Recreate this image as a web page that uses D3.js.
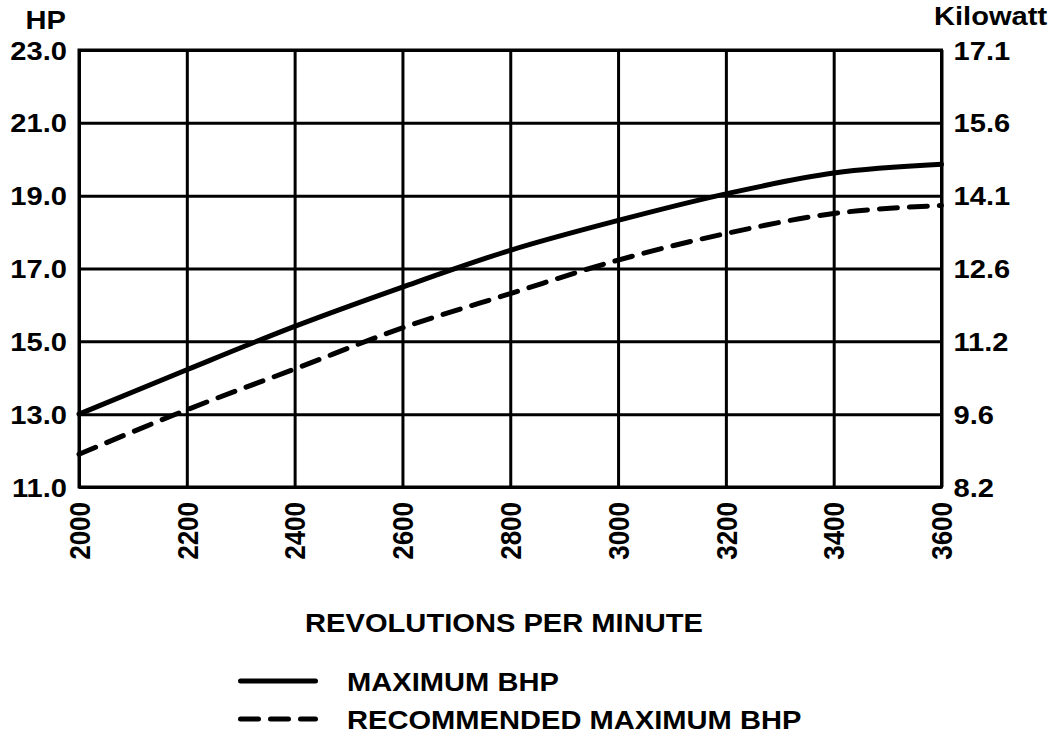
<!DOCTYPE html>
<html>
<head>
<meta charset="utf-8">
<script src="https://cdn.jsdelivr.net/npm/d3@7/dist/d3.min.js"></script>
<style>
body { margin: 0; background: #fff; }
text { font-family: "Liberation Sans", Arial, Helvetica, sans-serif; font-weight: bold; fill: #000; }
</style>
</head>
<body>
<svg id="chart" width="1053" height="738"></svg>
<script>
// values
var rpm = [2000, 2200, 2400, 2600, 2800, 3000, 3200, 3400, 3600];
var max_bhp = [13.0, 14.22, 15.41, 16.49, 17.5, 18.32, 19.05, 19.62, 19.86];
var rec_bhp = [11.9, 13.12, 14.24, 15.37, 16.31, 17.23, 17.96, 18.51, 18.73];

var hp_ticks = [11, 13, 15, 17, 19, 21, 23];
var kw_labels = ["8.2", "9.6", "11.2", "12.6", "14.1", "15.6", "17.1"];
var rpm_ticks = [2000, 2200, 2400, 2600, 2800, 3000, 3200, 3400, 3600];
var legend_labels = ["MAXIMUM BHP", "RECOMMENDED MAXIMUM BHP"];

const FONT_SIZE = 26;
const STRETCH = 1.12;   // the reference lettering is a bit wide
const LINE_W = 5;
const GRID_W = 3;

// plot box (window.top is read-only, so no bare "top")
var p_left = 79, p_right = 941.5, p_top = 50, p_bottom = 487;

var svg = d3.select("#chart");

var x = d3.scaleLinear().domain([2000, 3600]).range([p_left, p_right]);
var y = d3.scaleLinear().domain([11, 23]).range([p_bottom, p_top]);

// grid
svg.append("g")
    .attr("class", "grid")
    .attr("transform", "translate(0," + p_bottom + ")")
    .call(d3.axisBottom(x).tickValues(rpm_ticks).tickSize(-(p_bottom - p_top)).tickFormat(""));
svg.append("g")
    .attr("class", "grid")
    .attr("transform", "translate(" + p_left + ",0)")
    .call(d3.axisLeft(y).tickValues(hp_ticks).tickSize(-(p_right - p_left)).tickFormat(""));
svg.selectAll(".grid .domain").remove();
svg.selectAll(".grid .tick line")
    .attr("stroke", "#000")
    .attr("stroke-width", GRID_W);

// frame
svg.append("rect")
    .attr("x", p_left)
    .attr("y", p_top)
    .attr("width", p_right - p_left)
    .attr("height", p_bottom - p_top)
    .attr("fill", "none")
    .attr("stroke", "#000")
    .attr("stroke-width", GRID_W);

// left HP labels
var left_axis = svg.append("g")
    .attr("transform", "translate(" + p_left + ",0)")
    .call(d3.axisLeft(y).tickValues(hp_ticks).tickSize(0).tickFormat(d3.format(".1f")));
left_axis.select(".domain").remove();
left_axis.selectAll("text")
    .attr("x", -12 / STRETCH)
    .attr("dy", "0.35em")
    .attr("text-anchor", "end")
    .attr("transform", "scale(" + STRETCH + ",1)");

// right kilowatt labels
var right_axis = svg.append("g")
    .attr("transform", "translate(" + p_right + ",0)")
    .call(d3.axisRight(y).tickValues(hp_ticks).tickSize(0).tickFormat(function(d, i) { return kw_labels[i]; }));
right_axis.select(".domain").remove();
right_axis.selectAll("text")
    .attr("x", 12 / STRETCH)
    .attr("dy", "0.35em")
    .attr("text-anchor", "start")
    .attr("transform", "scale(" + STRETCH + ",1)");

// rpm labels, rotated
var bottom_axis = svg.append("g")
    .attr("transform", "translate(0," + p_bottom + ")")
    .call(d3.axisBottom(x).tickValues(rpm_ticks).tickSize(0).tickFormat(d3.format("d")));
bottom_axis.select(".domain").remove();
bottom_axis.selectAll("text")
    .attr("x", -15)
    .attr("y", 0)
    .attr("dy", "0.35em")
    .attr("text-anchor", "end")
    .attr("transform", "scale(" + STRETCH + ",1) rotate(-90)");

svg.selectAll(".tick text")
    .style("font-size", FONT_SIZE + "px")
    .attr("fill", "#000");
svg.selectAll("g").attr("font-family", null).attr("font-size", null);

// curves
var line = d3.line()
    .x(function(d) { return x(d.rpm); })
    .y(function(d) { return y(d.hp); })
    .curve(d3.curveMonotoneX);

var max_data = rpm.map(function(r, i) { return {rpm: r, hp: max_bhp[i]}; });
var rec_data = rpm.map(function(r, i) { return {rpm: r, hp: rec_bhp[i]}; });

svg.append("path")
    .datum(max_data)
    .attr("d", line)
    .attr("fill", "none")
    .attr("stroke", "#000")
    .attr("stroke-width", LINE_W)
    .attr("stroke-linecap", "round");

svg.append("path")
    .datum(rec_data)
    .attr("d", line)
    .attr("fill", "none")
    .attr("stroke", "#000")
    .attr("stroke-width", LINE_W)
    .attr("stroke-linecap", "round")
    .attr("stroke-dasharray", "18,12");

// helper for the wide lettering
function wide_text(tx, ty, str, anchor) {
    return svg.append("text")
        .attr("transform", "translate(" + tx + "," + ty + ") scale(" + STRETCH + ",1)")
        .attr("text-anchor", anchor)
        .style("font-size", FONT_SIZE + "px")
        .text(str);
}

// unit labels
wide_text(66, 29, "HP", "end");
wide_text(934, 25, "Kilowatt", "start");

// axis title
wide_text(504, 632, "REVOLUTIONS PER MINUTE", "middle");

// legend
var legend_y = [681, 719];
var legend_dash = [null, "18,12"];
legend_labels.forEach(function(lbl, i) {
    svg.append("line")
        .attr("x1", 240.5)
        .attr("x2", 315.5)
        .attr("y1", legend_y[i])
        .attr("y2", legend_y[i])
        .attr("stroke", "#000")
        .attr("stroke-width", LINE_W)
        .attr("stroke-linecap", "round")
        .attr("stroke-dasharray", legend_dash[i]);
    wide_text(347, legend_y[i] + 10, lbl, "start");
});
</script>
</body>
</html>
